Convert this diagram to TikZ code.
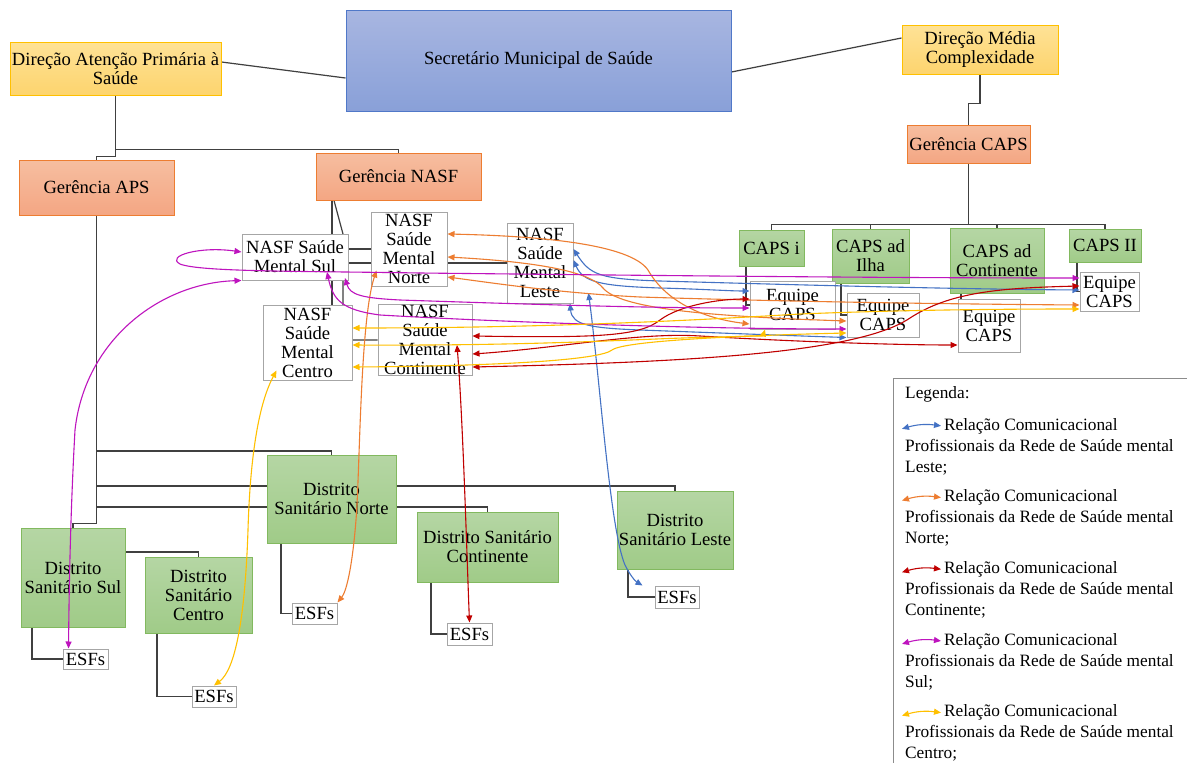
\documentclass[tikz,border=0pt]{standalone}
\usepackage{fontspec}
\setmainfont{Liberation Serif}
\usetikzlibrary{arrows.meta, backgrounds}

\definecolor{lestec}{RGB}{68,114,196}
\definecolor{nortec}{RGB}{237,125,49}
\definecolor{contc}{RGB}{192,0,0}
\definecolor{sulc}{RGB}{190,20,190}
\definecolor{centroc}{RGB}{255,192,0}
\definecolor{azultop}{RGB}{168,182,225}
\definecolor{azulbot}{RGB}{137,160,216}
\definecolor{azulborda}{RGB}{80,120,200}
\definecolor{amartop}{RGB}{254,226,150}
\definecolor{amarbot}{RGB}{253,212,110}
\definecolor{laratop}{RGB}{246,190,160}
\definecolor{larabot}{RGB}{244,166,131}
\definecolor{verdetop}{RGB}{181,214,164}
\definecolor{verdebot}{RGB}{160,203,136}
\definecolor{verdeborda}{RGB}{130,185,95}

\begin{document}
\begin{tikzpicture}[
    x=1pt, y=-1pt,
    every node/.style={font=\fontsize{18.6}{19}\selectfont, align=center, inner sep=1pt},
    tam/.style 2 args={minimum width=#1pt, minimum height=#2pt},
    secbox/.style={draw=azulborda, line width=1pt, top color=azultop, bottom color=azulbot},
    dirbox/.style={draw=centroc, line width=1pt, top color=amartop, bottom color=amarbot},
    gerbox/.style={draw=nortec, line width=1pt, top color=laratop, bottom color=larabot},
    verde/.style={draw=verdeborda, line width=1pt, top color=verdetop, bottom color=verdebot},
    branco/.style={draw=black!35, line width=1pt, fill=white},
    tronco/.style={draw=black!75, line width=1.2pt},
    relacao/.style={<->, >={Triangle[length=7pt,width=6pt]}, line width=1.1pt},
    legtxt/.style={font=\fontsize{17.3}{20}\selectfont, inner sep=0pt}
]
   \useasboundingbox (0,0) rectangle (1187,763);

   % Direction and management
   \node[secbox, tam={385}{101}] (sec) at (538.5,60.5) {Secretário Municipal de Saúde};
   \node[dirbox, tam={211}{53}] (dap) at (115.5,68.5) {Direção Atenção Primária à\\Saúde};
   \node[dirbox, tam={156}{49}] (dmc) at (980,49.5) {Direção Média\\Complexidade};
   \node[gerbox, tam={155}{55}] (gaps) at (96.5,187.5) {Gerência APS};
   \node[gerbox, tam={165}{47}] (gnasf) at (398.5,176.5) {Gerência NASF};
   \node[gerbox, tam={123}{38}] (gcaps) at (968.5,144) {Gerência CAPS};

   % CAPS and teams
   \node[verde, tam={65}{36}] (capsi) at (771.5,248) {CAPS i};
   \node[verde, tam={77}{54}] (capsilha) at (870.5,256) {CAPS ad\\Ilha};
   \node[verde, tam={94}{65}] (capscont) at (997,260.5) {CAPS ad\\Continente};
   \node[verde, tam={72}{33}] (capsii) at (1105,245.5) {CAPS II};
   \node[branco, tam={85}{48}] (eq1) at (792.5,305) {Equipe\\CAPS};
   \node[branco, tam={72}{44}] (eq2) at (883,315) {Equipe\\CAPS};
   \node[branco, tam={62}{53}] (eq3) at (989,325.5) {Equipe\\CAPS};
   \node[branco, tam={59}{39}] (eq4) at (1109.5,291.5) {Equipe\\CAPS};

   % NASF
   \node[branco, tam={106}{46}] (nsul) at (295,257) {NASF Saúde\\Mental Sul};
   \node[branco, tam={76}{74}] (nnorte) at (409,249) {NASF\\Saúde\\Mental\\Norte};
   \node[branco, tam={66}{80}] (nleste) at (540,263) {NASF\\Saúde\\Mental\\Leste};
   \node[branco, tam={89}{75}] (ncentro) at (307.5,342.5) {NASF\\Saúde\\Mental\\Centro};
   \node[branco, tam={94}{70}] (ncont) at (425,340) {NASF\\Saúde\\Mental\\Continente};

   % Districts and ESFs
   \node[verde, tam={104}{99}] (dsul) at (73,577.5) {Distrito\\Sanitário Sul};
   \node[verde, tam={107}{76}] (dcentro) at (198.5,595) {Distrito\\Sanitário\\Centro};
   \node[verde, tam={129}{88}] (dnorte) at (331.5,499) {Distrito\\Sanitário Norte};
   \node[verde, tam={141}{70}] (dcont) at (487.5,547) {Distrito Sanitário\\Continente};
   \node[verde, tam={116}{78}] (dleste) at (675,530) {Distrito\\Sanitário Leste};
   \node[branco, tam={45}{20}] (esul) at (85.5,659) {ESFs};
   \node[branco, tam={44}{21}] (ecentro) at (214,696.5) {ESFs};
   \node[branco, tam={45}{21}] (enorte) at (314.5,613.5) {ESFs};
   \node[branco, tam={45}{22}] (econt) at (469.5,634) {ESFs};
   \node[branco, tam={44}{22}] (eleste) at (677,597) {ESFs};

   % Hierarchy lines
   \begin{scope}[on background layer]
   \fill[white] (0,0) rectangle (1187,763);
   \draw[tronco] ([yshift=6.5pt]dap.east) -- ([yshift=-17.5pt]sec.west);
   \draw[tronco] ([yshift=-11.5pt]sec.east) -- ([yshift=11.5pt]dmc.west);
   \draw[tronco] (dap.south) -- ++(0,54) -| (gnasf.north);
   \draw[tronco] (dap.south) -- ++(0,61) -| (gaps.north);
   \draw[tronco] (gaps.south) -- ++(0,308) -| (dsul.north);
   \draw[tronco] (gaps.south |- 0,451) -| (dnorte.north);
   \draw[tronco] (gaps.south |- 0,486) -| (dleste.north);
   \draw[tronco] (gaps.south |- 0,507) -| (dcont.north);
   \draw[tronco] (dsul.east |- 0,552) -| (dcentro.north);
   \draw[tronco] ([xshift=-41pt]dsul.south) |- (esul.west);
   \draw[tronco] ([xshift=-41.5pt]dcentro.south) |- (ecentro.west);
   \draw[tronco] ([xshift=-50.5pt]dnorte.south) |- (enorte.west);
   \draw[tronco] ([xshift=-56.5pt]dcont.south) |- (econt.west);
   \draw[tronco] ([xshift=-47pt]dleste.south) |- (eleste.west);
   \draw[tronco] ([xshift=-66.5pt]gnasf.south) -- ([xshift=-66.5pt]gnasf.south |- ncentro.north);
   \draw[tronco] ([xshift=-64.5pt]gnasf.south) -- (343,234) |- (ncont.west);
   \draw[tronco] ([xshift=-66.5pt]gnasf.south |- nnorte.west) -- (nnorte.west);
   \draw[tronco] ([xshift=-62pt]gnasf.south |- nleste.west) -- (nleste.west);
   \draw[tronco] (dmc.south) -- ++(0,29) -| (gcaps.north);
   \draw[tronco] (gcaps.south) -- ++(0,61) coordinate (cbar);
   \draw[tronco] (capsi.north) |- (cbar) -| (capsii.north);
   \draw[tronco] (cbar) -| (capsilha.north);
   \draw[tronco] (cbar) -| (capscont.north);
   \draw[tronco] ([xshift=-25.5pt]capsi.south) |- (eq1.west);
   \draw[tronco] ([xshift=-29.5pt]capsilha.south) |- (eq2.west);
   \draw[tronco] ([xshift=-36pt]capscont.south) |- (eq3.west);
   \draw[tronco] ([xshift=-28pt]capsii.south) |- (eq4.west);
   \end{scope}

   % Leste
   \draw[relacao, lestec] (nleste.east |- 0,249) .. controls (590,275) and (600,279) .. (660,281)
        .. controls (800,285) and (950,289) .. (eq4.west |- 0,290);
   \draw[relacao, lestec] (nleste.east |- 0,260) .. controls (583,282) and (600,286) .. (660,288)
        .. controls (700,289) and (730,291) .. (eq1.west |- 0,291);
   \draw[relacao, lestec] (nleste.south -| 570,0) .. controls (572,325) and (590,328) .. (640,330)
        .. controls (720,333) and (800,336) .. (eq2.south west);
   \draw[relacao, lestec] ([shift={(15,30)}]nleste.east) .. controls (600,380) and (610,530) .. (625,565)
        .. controls (630,575) and (635,581) .. ([xshift=-12pt]eleste.north west);

   % Norte
   \draw[relacao, nortec] (nnorte.east |- 0,234) .. controls (540,236) and (630,244) .. (648,270)
        .. controls (665,300) and (700,318) .. (eq1.west |- 0,324);
   \draw[relacao, nortec] (nnorte.east |- 0,257) .. controls (540,262) and (590,272) .. (603,288)
        .. controls (620,308) and (700,316) .. (eq2.west |- 0,321);
   \draw[relacao, nortec] (nnorte.east |- 0,277) .. controls (500,284) and (560,293) .. (640,297)
        .. controls (800,302) and (950,304) .. (eq4.west |- 0,305);
   \draw[relacao, nortec] ([shift={(6,-16)}]nnorte.south west) .. controls (360,320) and (360,470) .. (356,520)
        .. controls (352,570) and (346,592) .. (enorte.north east);

   % Continente
   \draw[relacao, contc] (ncont.east |- 0,336) .. controls (600,338) and (640,336) .. (660,320)
        .. controls (680,305) and (720,299) .. (eq1.west |- 0,299);
   \draw[relacao, contc] (ncont.east |- 0,354) .. controls (560,348) and (640,332) .. (700,336)
        .. controls (800,342) and (900,345) .. (eq3.west |- 0,345);
   \draw[relacao, contc] (ncont.east |- 0,367) .. controls (700,362) and (860,352) .. (910,318)
        .. controls (950,292) and (1000,288) .. (eq4.west |- 0,286);
   \draw[relacao, contc] ([shift={(32,5)}]ncont.center) .. controls (463,420) and (467,560) .. (econt.north);

   % Sul
   \draw[relacao, sulc] (nsul.west |- 0,252) .. controls (200,246) and (165,256) .. (180,264)
        .. controls (200,272) and (300,271) .. (420,273)
        .. controls (700,276) and (900,278) .. (eq4.west |- 0,278);
   \draw[relacao, sulc] (nsul.south west) .. controls (160,283) and (85,340) .. (75,430)
        .. controls (70,520) and (69,600) .. ([xshift=6pt]esul.north west);
   \draw[relacao, sulc] ([shift={(32,15)}]nsul.center) .. controls (333,300) and (342,310) .. (380,315)
        .. controls (500,322) and (700,329) .. (eq2.west |- 0,329);
   \draw[relacao, sulc] ([shift={(50,21)}]nsul.center) .. controls (350,295) and (362,298) .. (400,300)
        .. controls (550,305) and (650,308) .. (eq1.west |- 0,308);

   % Centro
   \draw[relacao, centroc] (ncentro.east |- 0,328) .. controls (550,328) and (700,320) .. (800,314)
        .. controls (900,310) and (1000,309) .. (eq4.west |- 0,309);
   \draw[relacao, centroc] (ncentro.east |- 0,345) .. controls (550,346) and (650,338) .. (720,337)
        .. controls (750,336) and (763,336) .. (eq1.south -| 765,0);
   \draw[relacao, centroc] (ncentro.east |- 0,367) .. controls (500,366) and (600,360) .. (612,350)
        .. controls (625,340) and (760,335) .. (eq2.west |- 0,333);
   \draw[relacao, centroc] ([shift={(14,-10)}]ncentro.south west) .. controls (258,405) and (250,460) .. (248,530)
        .. controls (245,620) and (235,670) .. (ecentro.north);

   % Legend
   \node[draw=black!45, line width=1pt, anchor=north west, minimum width=330pt, minimum height=420pt] (leg) at (893,378) {};
   \node[legtxt, anchor=base west] (legt) at (905,398) {Legenda:};
   \foreach \cor/\reg [count=\i from 0] in {lestec/Leste, nortec/Norte, contc/Continente, sulc/Sul, centroc/Centro} {
      \node[legtxt, anchor=base west] (rc\i) at (944,{430+71.7*\i}) {Relação Comunicacional};
      \node[legtxt, anchor=base west] (pr\i) at (905,{451+71.7*\i}) {Profissionais da Rede de Saúde mental};
      \node[legtxt, anchor=base west] (rg\i) at (905,{472+71.7*\i}) {\reg;};
      \draw[relacao, \cor] ([shift={(-42,3)}]rc\i.west) to[bend left=12] ([xshift=-3pt]rc\i.west);
   }
\end{tikzpicture}
\end{document}
